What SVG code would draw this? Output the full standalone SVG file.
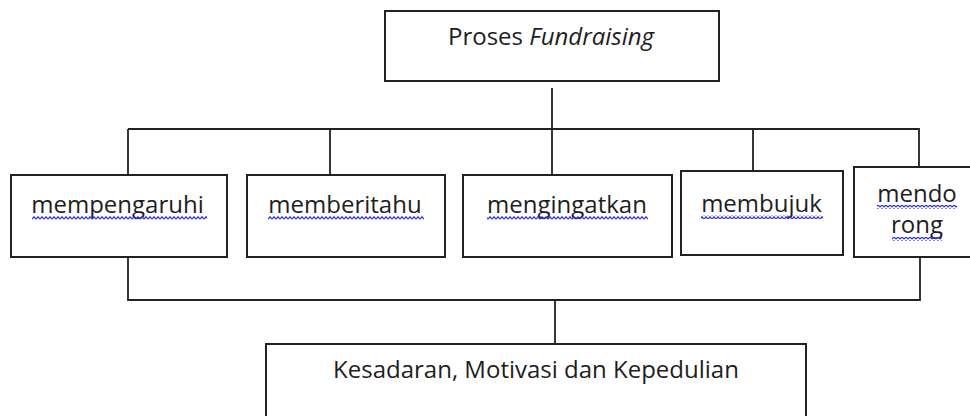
<svg xmlns="http://www.w3.org/2000/svg" width="970" height="416" viewBox="0 0 970 416">
<style>
.box{fill:#fff;stroke:#222;stroke-width:2}
.con{fill:none;stroke:#222;stroke-width:1.8}
.t{font-family:"Open Sans","Liberation Sans",sans-serif;font-size:24px;fill:#1e1e1e;text-anchor:middle}
.sp{fill:url(#wavy)}
</style>
<defs>
<pattern id="wavy" x="0" y="0" width="4" height="4" patternUnits="userSpaceOnUse">
<polyline points="0,3.2 2,0.8 4,3.2" fill="none" stroke="#3030e8" stroke-width="1.3"/>
</pattern>
</defs>
<rect width="970" height="416" fill="#fff"/>
<g id="connectors">
<path class="con" d="M552,88 V128 M128,129 H919 M128,129 V175 M330,129 V175 M552,128 V175 M753,129 V171 M919,128 V167"/>
<path class="con" d="M128,257 V300 H920 M920,257 V301 M555,301 V344"/>
</g>
<g id="proses">
<rect class="box" x="385" y="11" width="334" height="70"/>
<text class="t" x="551" y="45">Proses <tspan font-style="italic">Fundraising</tspan></text>
</g>
<g id="mempengaruhi">
<rect class="box" x="11" y="175" width="216" height="82"/>
<text class="t" x="117.5" y="213">mempengaruhi</text>
<rect class="sp" x="32" y="216" width="175" height="4"/>
</g>
<g id="memberitahu">
<rect class="box" x="247" y="175" width="198" height="82"/>
<text class="t" x="345" y="213">memberitahu</text>
<rect class="sp" x="268" y="216" width="156" height="4"/>
</g>
<g id="mengingatkan">
<rect class="box" x="463" y="175" width="209" height="82"/>
<text class="t" x="567" y="213">mengingatkan</text>
<rect class="sp" x="487" y="216" width="161" height="4"/>
</g>
<g id="membujuk">
<rect class="box" x="681" y="171" width="162" height="84"/>
<text class="t" x="761.5" y="212">membujuk</text>
<rect class="sp" x="701" y="215" width="122" height="4"/>
</g>
<g id="mendorong">
<rect class="box" x="854" y="167" width="130" height="90"/>
<text class="t" x="917" y="202">mendo<tspan x="917" dy="31">rong</tspan></text>
<rect class="sp" x="877" y="205" width="80" height="4"/>
<rect class="sp" x="892" y="237" width="50" height="4"/>
</g>
<g id="kesadaran">
<rect class="box" x="266" y="344" width="540" height="90"/>
<text class="t" x="536" y="378">Kesadaran, Motivasi dan Kepedulian</text>
</g>
</svg>
